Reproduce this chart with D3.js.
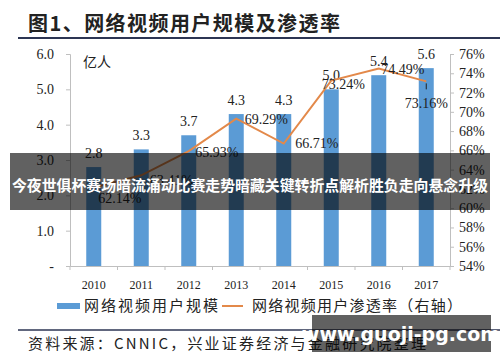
<!DOCTYPE html>
<html><head><meta charset="utf-8">
<script src="https://cdn.jsdelivr.net/npm/d3@7"></script>
<style>body{margin:0;background:#fff;} svg{display:block;}</style>
</head><body>
<svg id="c" width="500" height="362"></svg>
<script>
const years = ["2010","2011","2012","2013","2014","2015","2016","2017"];
const users = [2.8, 3.3, 3.7, 4.3, 4.3, 5.0, 5.4, 5.6];
const rates = [62.14, 63.41, 65.93, 69.29, 66.71, 73.24, 74.49, 73.16];
const leftTicks = [0,1,2,3,4,5,6];
const rightTicks = [54,56,58,60,62,64,66,68,70,72,74,76];
const title = "图1、网络视频用户规模及渗透率";
const unitLabel = "亿人";
const legendBar = "网络视频用户规模";
const legendLine = "网络视频用户渗透率（右轴）";
const source = "资料来源：CNNIC，兴业证券经济与金融研究院整理";
const banner = "今夜世俱杯赛场暗流涌动比赛走势暗藏关键转折点解析胜负走向悬念升级";
const watermark = "www.guoji-pg.com";
// label offsets (dx, dy) relative to point for rate labels
const rateLabelOffset = [[26,10],[30,5],[28,1],[30,0],[33,-1],[12,3],[24,0],[0,22]];

const svg = d3.select("#c");
const serif = "'Liberation Serif','Times New Roman',serif";
const cjk = "'Noto Sans CJK SC',sans-serif";
const m = {l:70, r:450, t:54, b:266};
const x = d3.scaleBand().domain(years).range([m.l, m.r]);
const yL = d3.scaleLinear().domain([0,6]).range([m.b, m.t]);
const yR = d3.scaleLinear().domain([54,76]).range([m.b, m.t]);

// title
svg.append("text").attr("x",28).attr("y",31).attr("font-family",cjk).attr("font-weight","bold")
  .attr("font-size",20).attr("fill","#222").attr("textLength",312).attr("lengthAdjust","spacing").text(title);
svg.append("line").attr("x1",18).attr("x2",500).attr("y1",38).attr("y2",38).attr("stroke","#2c3553").attr("stroke-width",2);

// bars
svg.selectAll("rect.bar").data(users).enter().append("rect")
  .attr("x",(d,i)=>x(years[i])+x.bandwidth()/2-7.5).attr("width",15)
  .attr("y",d=>yL(d)).attr("height",d=>yL(0)-yL(d)).attr("fill","#5b9bd5");
svg.selectAll("text.bl").data(users).enter().append("text")
  .attr("x",(d,i)=>x(years[i])+x.bandwidth()/2).attr("y",d=>yL(d)-9)
  .attr("text-anchor","middle").attr("font-family",serif).attr("font-size",14).attr("fill","#222")
  .text(d=>d.toFixed(1));

// left axis
const axL = svg.append("g").attr("transform",`translate(${m.l},0)`)
  .call(d3.axisLeft(yL).tickValues(leftTicks).tickSize(4).tickFormat(d=>d===0?"-":d.toFixed(1)));
axL.select(".domain").attr("stroke","#bfbfbf");
axL.selectAll(".tick line").attr("stroke","#bfbfbf");
axL.selectAll("text").attr("font-family",serif).attr("font-size",14).attr("fill","#222").attr("dx",-9);

// right axis
const axR = svg.append("g").attr("transform",`translate(${m.r},0)`)
  .call(d3.axisRight(yR).tickValues(rightTicks).tickSize(4).tickFormat(d=>d+"%"));
axR.select(".domain").attr("stroke","#bfbfbf");
axR.selectAll(".tick line").attr("stroke","#bfbfbf");
axR.selectAll("text").attr("font-family",serif).attr("font-size",14).attr("fill","#222").attr("dx",2);

// x axis
const axX = svg.append("g").attr("transform",`translate(0,${m.b})`)
  .call(d3.axisBottom(x).tickSize(0).tickPadding(14));
axX.select(".domain").attr("stroke","#bfbfbf");
axX.selectAll("text").attr("font-family",serif).attr("font-size",12).attr("fill","#222");
svg.append("g").selectAll("line").data(years.concat(["end"])).enter().append("line")
  .attr("x1",(d,i)=>m.l+i*x.step()).attr("x2",(d,i)=>m.l+i*x.step())
  .attr("y1",m.b).attr("y2",m.b+4).attr("stroke","#bfbfbf");

// unit
svg.append("text").attr("x",83).attr("y",67).attr("font-family",cjk).attr("font-size",14).attr("fill","#222").text(unitLabel);

// line
const line = d3.line().x((d,i)=>x(years[i])+x.bandwidth()/2).y(d=>yR(d));
svg.append("path").datum(rates).attr("d",line).attr("fill","none").attr("stroke","#e3894a").attr("stroke-width",2);
svg.selectAll("text.rl").data(rates).enter().append("text")
  .attr("x",(d,i)=>x(years[i])+x.bandwidth()/2+rateLabelOffset[i][0])
  .attr("y",(d,i)=>yR(d)+rateLabelOffset[i][1]+5)
  .attr("text-anchor","middle").attr("font-family",serif).attr("font-size",14).attr("fill","#222")
  .text(d=>d.toFixed(2)+"%");
svg.append("line").attr("x1",x("2017")+x.bandwidth()/2).attr("x2",x("2017")+x.bandwidth()/2)
  .attr("y1",yR(rates[7])+2).attr("y2",yR(rates[7])+8).attr("stroke","#222").attr("stroke-width",1);

// legend
svg.append("rect").attr("x",57).attr("y",303).attr("width",23).attr("height",6).attr("fill","#5b9bd5");
svg.append("text").attr("x",84).attr("y",311).attr("font-family",cjk).attr("font-size",15).attr("fill","#222")
  .attr("textLength",134).attr("lengthAdjust","spacing").text(legendBar);
svg.append("line").attr("x1",222).attr("x2",243).attr("y1",306).attr("y2",306).attr("stroke","#e3894a").attr("stroke-width",2);
svg.append("text").attr("x",252).attr("y",311).attr("font-family",cjk).attr("font-size",15).attr("fill","#222")
  .attr("textLength",210).attr("lengthAdjust","spacing").text(legendLine);

// source
svg.append("line").attr("x1",18).attr("x2",500).attr("y1",330).attr("y2",330).attr("stroke","#2c3553").attr("stroke-width",1.5);
svg.append("text").attr("x",28).attr("y",349).attr("font-family",cjk).attr("font-size",15).attr("fill","#222")
  .attr("textLength",398).attr("lengthAdjust","spacing").text(source);

// banner overlay
svg.append("rect").attr("x",10).attr("y",153).attr("width",480).attr("height",57).attr("fill","rgba(0,0,0,0.62)");
svg.append("text").attr("x",12).attr("y",191).attr("font-family",cjk)
  .attr("font-weight","bold").attr("font-size",15).attr("fill","#fff")
  .attr("textLength",476).attr("lengthAdjust","spacingAndGlyphs").text(banner);

// watermark
svg.append("rect").attr("x",312).attr("y",315).attr("width",179).attr("height",37).attr("fill","rgba(0,0,0,0.62)");
svg.append("text").attr("x",401).attr("y",341).attr("text-anchor","middle").attr("font-family","'DejaVu Sans',sans-serif")
  .attr("font-weight","bold").attr("font-size",19).attr("fill","#fff").text(watermark);
</script>
</body></html>
